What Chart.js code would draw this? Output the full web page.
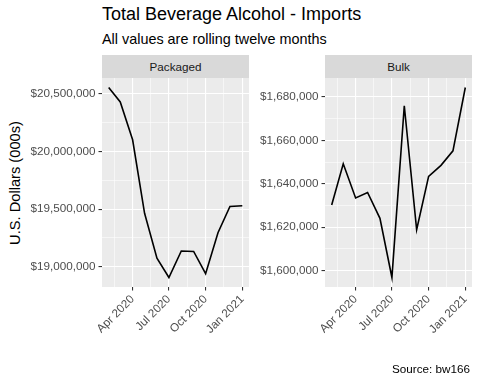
<!DOCTYPE html>
<html lang="en">
<head>
<meta charset="UTF-8">
<title>Total Beverage Alcohol - Imports</title>
<script src="https://cdn.jsdelivr.net/npm/chart.js"></script>
<style>
    body { margin: 0; background: #fff; font-family: "Liberation Sans", Arial, sans-serif; }
    .janela { position: relative; width: 480px; height: 384px; overflow: hidden; }
    .txt { position: absolute; white-space: nowrap; }
    .titulo { left: 102px; top: 4px; font-size: 18px; line-height: 20px; color: #000; }
    .subtitulo { left: 102px; top: 29.5px; font-size: 14.4px; line-height: 18px; color: #000; }
    .ylabel { left: 14.5px; top: 182.5px; font-size: 14.67px; line-height: 18px; color: #000;
              transform: translate(-50%, -50%) rotate(-90deg); }
    .fonte { right: 10px; top: 362px; font-size: 11.7px; line-height: 14px; color: #000; }
    .strip { position: absolute; top: 55px; height: 23px; line-height: 23px; background: #D9D9D9;
             text-align: center; font-size: 11.7px; color: #1A1A1A; }
    canvas { position: absolute; top: 78px; }
</style>
</head>
<body>
<div class="janela">
    <div class="txt titulo">Total Beverage Alcohol - Imports</div>
    <div class="txt subtitulo">All values are rolling twelve months</div>
    <div class="txt ylabel">U.S. Dollars (000s)</div>
    <div class="strip" style="left:102px; width:147px;">Packaged</div>
    <div class="strip" style="left:325px; width:147px;">Bulk</div>
    <canvas id="graficoPackaged" width="249" height="300" style="left:0px;"></canvas>
    <canvas id="graficoBulk" width="222" height="300" style="left:250px;"></canvas>
    <div class="txt fonte">Source: bw166</div>
</div>

<script>
    // dados (rolling twelve months, US$ 000s)
    const meses = ['2020-02-01', '2020-03-01', '2020-04-01', '2020-05-01', '2020-06-01', '2020-07-01',
                   '2020-08-01', '2020-09-01', '2020-10-01', '2020-11-01', '2020-12-01', '2021-01-01'];
    const packaged = [20555000, 20430000, 20101000, 19463000, 19073000, 18906000,
                      19136000, 19132000, 18939000, 19295000, 19523000, 19529000];
    const bulk = [1630200, 1649200, 1633500, 1636000, 1624100, 1596800,
                  1676000, 1618800, 1643400, 1648500, 1655200, 1684400];

    const datasTicks = ['2020-01-01', '2020-04-01', '2020-07-01', '2020-10-01', '2021-01-01', '2021-04-01'];
    const labelsDatas = ['Jan 2020', 'Apr 2020', 'Jul 2020', 'Oct 2020', 'Jan 2021', 'Apr 2021'];
    const ticksPackaged = [18500000, 19000000, 19500000, 20000000, 20500000, 21000000];
    const ticksBulk = [1580000, 1600000, 1620000, 1640000, 1660000, 1680000, 1700000];

    const corTexto = '#4D4D4D';
    Chart.defaults.font.family = '"Liberation Sans", Arial, sans-serif';
    Chart.defaults.font.size = 11.7;
    Chart.defaults.color = corTexto;

    function dia(d) {
        return (Date.parse(d + 'T00:00:00Z') - Date.UTC(2020, 0, 1)) / 86400000;
    }

    function expandir(valores) {
        const mn = Math.min(...valores), mx = Math.max(...valores);
        const e = (mx - mn) * 0.05;
        return [mn - e, mx + e];
    }

    // majors + minors (ponto medio entre majors), só os que ficam dentro do intervalo
    function montarTicks(majors, labels, min, max) {
        const lista = [];
        for (let i = 0; i < majors.length; i++) {
            if (majors[i] >= min && majors[i] <= max) lista.push({ value: majors[i], label: labels[i], minor: false });
            if (i < majors.length - 1) {
                const m = (majors[i] + majors[i + 1]) / 2;
                if (m >= min && m <= max) lista.push({ value: m, label: '', minor: true });
            }
        }
        return lista;
    }

    function dolar(v) {
        return '$' + Math.round(v).toLocaleString('en-US');
    }

    const fundoPainel = {
        id: 'fundoPainel',
        beforeDraw(chart) {
            const a = chart.chartArea;
            const ctx = chart.ctx;
            ctx.save();
            ctx.fillStyle = '#EBEBEB';
            ctx.fillRect(a.left, a.top, a.right - a.left, a.bottom - a.top);
            ctx.restore();
        }
    };

    function plotarGrafico(idCanvas, valores, ticksY, larguraEixoY) {
        const xs = meses.map(dia);
        const [xMin, xMax] = expandir(xs);
        const [yMin, yMax] = expandir(valores);
        const xTicks = montarTicks(datasTicks.map(dia), labelsDatas, xMin, xMax);
        const yTicks = montarTicks(ticksY, ticksY.map(dolar), yMin, yMax);

        const grade = {
            color: '#FFFFFF',
            lineWidth: (c) => (c.tick && c.tick.minor ? 0.55 : 1.1),
            tickColor: (c) => (c.tick && c.tick.minor ? 'rgba(0,0,0,0)' : '#333333'),
            tickLength: 3.5,
            tickWidth: 1.1
        };

        const config = {
            type: 'line',
            data: {
                datasets: [{
                    data: xs.map((x, i) => ({ x: x, y: valores[i] })),
                    borderColor: '#000000',
                    borderWidth: 1.6,
                    pointRadius: 0,
                    tension: 0,
                    fill: false
                }]
            },
            options: {
                responsive: false,
                animation: false,
                devicePixelRatio: 1,
                layout: { padding: 0, autoPadding: false },
                plugins: { legend: { display: false }, tooltip: { enabled: false } },
                scales: {
                    x: {
                        type: 'linear',
                        min: xMin,
                        max: xMax,
                        grid: grade,
                        border: { display: false },
                        afterBuildTicks: (s) => { s.ticks = xTicks.map(t => ({ value: t.value, minor: t.minor })); },
                        afterFit: (s) => { s.height = 300 - 209; s.paddingLeft = 0; s.paddingRight = 0; },
                        ticks: {
                            autoSkip: false,
                            minRotation: 45,
                            maxRotation: 45,
                            padding: 2,
                            color: corTexto,
                            callback: (v, i) => xTicks[i].label
                        }
                    },
                    y: {
                        type: 'linear',
                        min: yMin,
                        max: yMax,
                        grid: grade,
                        border: { display: false },
                        afterBuildTicks: (s) => { s.ticks = yTicks.map(t => ({ value: t.value, minor: t.minor })); },
                        afterFit: (s) => { s.width = larguraEixoY; s.paddingTop = 0; s.paddingBottom = 0; },
                        ticks: {
                            autoSkip: false,
                            padding: 3,
                            color: corTexto,
                            callback: (v, i) => yTicks[i].label
                        }
                    }
                }
            },
            plugins: [fundoPainel]
        };

        return new Chart(document.getElementById(idCanvas), config);
    }

    plotarGrafico('graficoPackaged', packaged, ticksPackaged, 102);
    plotarGrafico('graficoBulk', bulk, ticksBulk, 75);
</script>
</body>
</html>
